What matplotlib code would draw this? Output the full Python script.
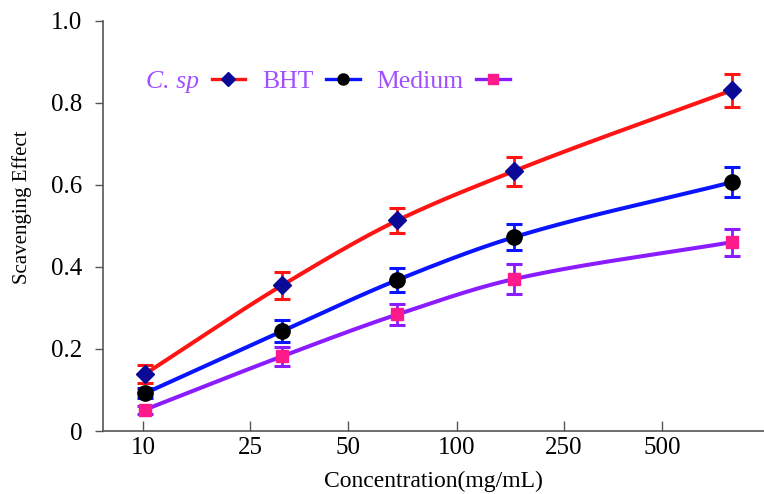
import numpy as np
import matplotlib
matplotlib.use("Agg")
import matplotlib.pyplot as plt
from matplotlib.lines import Line2D

plt.rcParams['font.family'] = ['Liberation Serif', 'DejaVu Serif']

# tick labels on a fake axis (positions in tick units)
tick_labels = ['10', '25', '50', '100', '250', '500']
tick_pos = [0, 1.03, 1.97, 3.02, 4.05, 5.0]

# x position of each measured concentration (same units)
x_pts = [0.02, 1.34, 2.45, 3.57, 5.67]

csp = [0.139, 0.355, 0.513, 0.633, 0.830]
csp_err = [0.021, 0.033, 0.031, 0.035, 0.040]
bht = [0.092, 0.243, 0.368, 0.472, 0.606]
bht_err = [0.012, 0.027, 0.030, 0.032, 0.037]
medium = [0.052, 0.182, 0.284, 0.370, 0.460]
medium_err = [0.010, 0.023, 0.025, 0.036, 0.033]


def smooth(x, y, n=200):
    # monotone cubic hermite, just for drawing the curve
    x = np.asarray(x, float)
    y = np.asarray(y, float)
    h = np.diff(x)
    d = np.diff(y) / h
    m = np.zeros_like(y)
    m[0], m[-1] = d[0], d[-1]
    for i in range(1, len(y) - 1):
        if d[i - 1] * d[i] > 0:
            w1 = 2 * h[i] + h[i - 1]
            w2 = h[i] + 2 * h[i - 1]
            m[i] = (w1 + w2) / (w1 / d[i - 1] + w2 / d[i])
    xs = np.linspace(x[0], x[-1], n)
    idx = np.clip(np.searchsorted(x, xs) - 1, 0, len(x) - 2)
    t = (xs - x[idx]) / h[idx]
    h00 = 2 * t**3 - 3 * t**2 + 1
    h10 = t**3 - 2 * t**2 + t
    h01 = -2 * t**3 + 3 * t**2
    h11 = t**3 - t**2
    ys = h00 * y[idx] + h10 * h[idx] * m[idx] + h01 * y[idx + 1] + h11 * h[idx] * m[idx + 1]
    return xs, ys


fig = plt.figure(figsize=(7.64, 4.94), dpi=100)
ax = fig.add_axes([0.1348, 0.1275, 0.8652, 0.831])

series = [
    (medium, medium_err, '#8a1cff', 's', '#ff1a8c', '#ff1a8c', 9),
    (bht, bht_err, '#0a14ff', 'o', 'black', 'black', 11),
    (csp, csp_err, '#ff1414', 'D', '#0a0a96', '#0a0a96', 9),
]

for vals, err, col, mk, mfc, mec, ms in series:
    xs, ys = smooth(x_pts, vals)
    ax.plot(xs, ys, color=col, lw=2.9, solid_capstyle='round', zorder=2)
    ax.errorbar(x_pts, vals, yerr=err, fmt='none', ecolor=col, elinewidth=2,
                capsize=5.5, capthick=2.2, zorder=3)
    ax.plot(x_pts, vals, ls='none', marker=mk, markersize=ms, mfc=mfc, mec=mec, zorder=4)

ax.set_xlim(-0.385, 5.98)
ax.set_ylim(0, 1.0)
ax.set_xticks(tick_pos)
ax.set_xticklabels(tick_labels)
ax.set_yticks([0, 0.2, 0.4, 0.6, 0.8, 1.0])
ax.set_yticklabels(['0', '0.2', '0.4', '0.6', '0.8', '1.0'])

for s in ['top', 'right']:
    ax.spines[s].set_visible(False)
for s in ['left', 'bottom']:
    ax.spines[s].set_color('#555555')
    ax.spines[s].set_linewidth(1.2)

ax.tick_params(axis='x', direction='in', length=7, width=1, colors='#555555',
               labelcolor='black', labelsize=18, pad=4)
ax.tick_params(axis='y', direction='out', length=6, width=1, colors='#555555',
               labelcolor='black', labelsize=18, pad=9)

ax.set_xlabel('Concentration(mg/mL)', fontsize=17, labelpad=9)
ax.set_ylabel('Scavenging Effect', fontsize=15)
ax.yaxis.set_label_coords(-0.108, 0.545)

handles = [
    Line2D([], [], color='#ff1414', lw=2.4, marker='D', markersize=7, mfc='#0a0a96', mec='#0a0a96'),
    Line2D([], [], color='#0a14ff', lw=2.4, marker='o', markersize=8, mfc='black', mec='black'),
    Line2D([], [], color='#8a1cff', lw=2.4, marker='s', markersize=7, mfc='#ff1a8c', mec='#ff1a8c'),
]
leg = ax.legend(handles, ['C. sp', 'BHT', 'Medium'], loc='upper left',
                bbox_to_anchor=(0.03, 0.935), ncol=3, frameon=False, markerfirst=False,
                fontsize=18.5, handlelength=1.3, handletextpad=0.5, columnspacing=0.65)
for i, t in enumerate(leg.get_texts()):
    t.set_color('#a050ff')
    if i == 0:
        t.set_style('italic')

fig.savefig('out.png', dpi=100)
